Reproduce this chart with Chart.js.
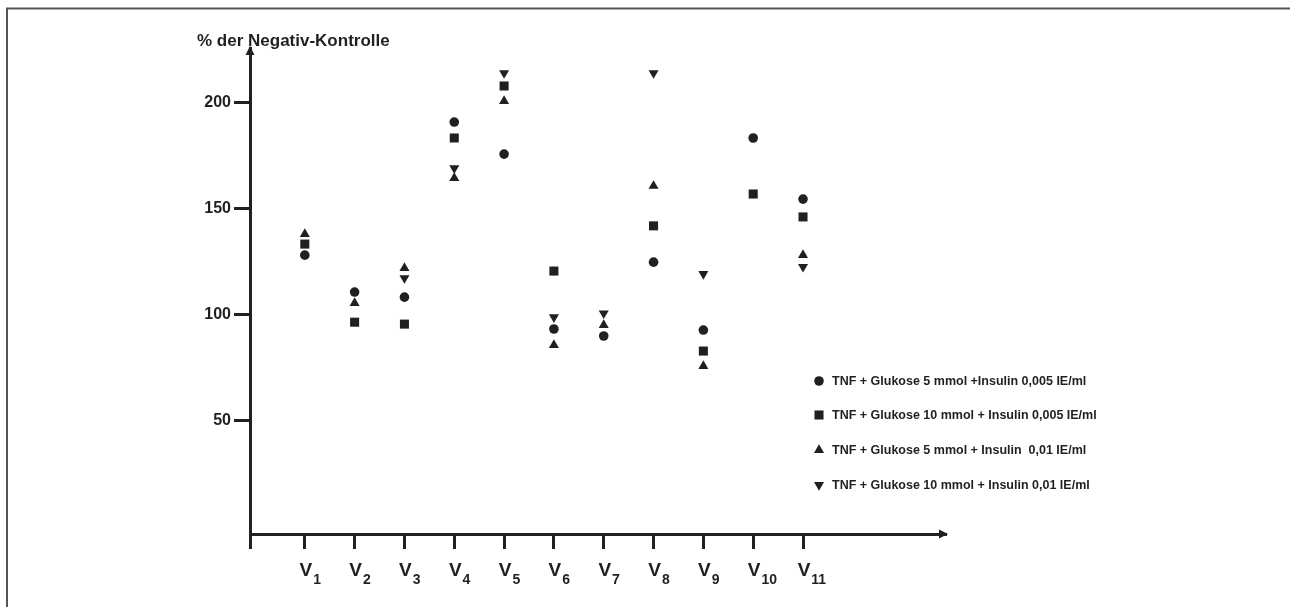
<!DOCTYPE html>
<html>
<head>
<meta charset="utf-8">
<script src="https://cdn.jsdelivr.net/npm/chart.js@4.4.1/dist/chart.umd.min.js"></script>
<style>
  html, body { margin: 0; padding: 0; background: #fff; }
  #wrap { width: 1290px; height: 607px; }
</style>
</head>
<body>
<div id="wrap"><canvas id="chart" width="1290" height="607"></canvas></div>
<script>
// categories (V + subscript number)
const categories = ["V1", "V2", "V3", "V4", "V5", "V6", "V7", "V8", "V9", "V10", "V11"];
const yTicks = [50, 100, 150, 200];

// % der Negativ-Kontrolle (null = no marker)
const glucose5Insulin005 = [128, 110.6, 108.2, 190.7, 175.6, 93.2, 89.9, 124.7, 92.7, 183.2, 154.4];
const glucose10Insulin005 = [133.2, 96.4, 95.5, 183.2, 207.7, 120.5, null, 141.8, 82.8, 156.8, 146.0];
const glucose5Insulin001 = [137.9, 105.4, 121.9, 164.3, 200.6, 85.6, 95.0, 160.6, 75.7, null, 128.0];
const glucose10Insulin001 = [null, null, 117.2, 169.0, 213.8, 98.8, 100.6, 213.8, 119.1, null, 122.5];

const seriesLabels = [
  "TNF + Glukose 5 mmol +Insulin 0,005 IE/ml",
  "TNF + Glukose 10 mmol + Insulin 0,005 IE/ml",
  "TNF + Glukose 5 mmol + Insulin  0,01 IE/ml",
  "TNF + Glukose 10 mmol + Insulin 0,01 IE/ml",
];

const INK = "#231f20";
const FONT = '"Liberation Sans", Arial, sans-serif';

function toPoints(values) {
  return values.map((v, i) => ({ x: i + 1, y: v }));
}

function makeDataset(label, values, pointStyle, radius, rotation) {
  return {
    label,
    data: toPoints(values),
    showLine: false,
    pointStyle,
    pointRadius: radius,
    pointHoverRadius: radius,
    pointRotation: rotation,
    pointBackgroundColor: INK,
    pointBorderWidth: 0,
    borderColor: INK,
    backgroundColor: INK,
  };
}

function drawMarker(ctx, style, radius, rotation, x, y) {
  if (Chart.helpers && Chart.helpers.drawPoint) {
    Chart.helpers.drawPoint(ctx, { pointStyle: style, radius, rotation, borderWidth: 0 }, x, y);
  }
}

const decorPlugin = {
  id: "decor",
  afterDraw(chart) {
    const ctx = chart.ctx;
    const area = chart.chartArea;
    const xScale = chart.scales.x;

    ctx.save();

    // frame
    ctx.strokeStyle = "#555";
    ctx.lineWidth = 2;
    ctx.beginPath();
    ctx.moveTo(7, 607);
    ctx.lineTo(7, 8.5);
    ctx.lineTo(1290, 8.5);
    ctx.stroke();

    // arrow heads
    ctx.fillStyle = INK;
    ctx.beginPath();
    ctx.moveTo(area.left, area.top - 2);
    ctx.lineTo(area.left - 4.5, area.top + 7);
    ctx.lineTo(area.left + 4.5, area.top + 7);
    ctx.closePath();
    ctx.fill();
    ctx.beginPath();
    ctx.moveTo(area.right + 2, area.bottom);
    ctx.lineTo(area.right - 7, area.bottom - 4.5);
    ctx.lineTo(area.right - 7, area.bottom + 4.5);
    ctx.closePath();
    ctx.fill();

    // title
    ctx.font = "bold 17px " + FONT;
    ctx.textAlign = "left";
    ctx.textBaseline = "alphabetic";
    ctx.fillText("% der Negativ-Kontrolle", 197, 46);

    // x labels with subscript numbers
    categories.forEach((cat, i) => {
      const px = xScale.getPixelForValue(i + 1);
      const base = cat.charAt(0);
      const sub = cat.slice(1);
      ctx.font = "bold 19px " + FONT;
      const wBase = ctx.measureText(base).width;
      ctx.textAlign = "center";
      ctx.fillText(base, px + 1, 576);
      ctx.font = "bold 14px " + FONT;
      ctx.textAlign = "left";
      ctx.fillText(sub, px + wBase / 2 + 2, 584);
    });

    // legend
    const rows = [381, 415, 450, 485];
    ctx.font = "bold 12.5px " + FONT;
    ctx.textBaseline = "middle";
    chart.data.datasets.forEach((ds, i) => {
      ctx.fillStyle = INK;
      drawMarker(ctx, ds.pointStyle, ds.pointRadius, ds.pointRotation, 819, rows[i]);
      ctx.fillText(ds.label, 832, rows[i] + 1);
    });

    ctx.restore();
  },
};

const xMin = -0.1;
const xMax = 13.87;

new Chart(document.getElementById("chart"), {
  type: "scatter",
  data: {
    datasets: [
      makeDataset(seriesLabels[0], glucose5Insulin005, "circle", 4.8, 0),
      makeDataset(seriesLabels[1], glucose10Insulin005, "rect", 6.4, 0),
      makeDataset(seriesLabels[2], glucose5Insulin001, "triangle", 5.8, 0),
      makeDataset(seriesLabels[3], glucose10Insulin001, "triangle", 5.8, 180),
    ],
  },
  options: {
    responsive: false,
    animation: false,
    events: [],
    layout: { padding: { top: 48, right: 344, left: 0, bottom: 0 } },
    plugins: {
      legend: { display: false },
      tooltip: { enabled: false },
    },
    scales: {
      x: {
        type: "linear",
        min: xMin,
        max: xMax,
        afterBuildTicks: (scale) => {
          scale.ticks = [{ value: xMin }].concat(categories.map((_, i) => ({ value: i + 1 })));
        },
        afterFit: (scale) => {
          scale.height = 73;
        },
        ticks: { display: false },
        grid: {
          drawOnChartArea: false,
          tickLength: 15,
          tickWidth: 3,
          tickColor: INK,
        },
        border: { width: 3, color: INK },
      },
      y: {
        type: "linear",
        min: -3.4,
        max: 225.6,
        afterBuildTicks: (scale) => {
          scale.ticks = yTicks.map((v) => ({ value: v }));
        },
        afterFit: (scale) => {
          scale.width = 250;
        },
        ticks: {
          color: INK,
          padding: 3,
          font: { family: FONT, size: 16, weight: "bold" },
        },
        grid: {
          drawOnChartArea: false,
          tickLength: 16,
          tickWidth: 3,
          tickColor: INK,
        },
        border: { width: 3, color: INK },
      },
    },
  },
  plugins: [decorPlugin],
});
</script>
</body>
</html>
